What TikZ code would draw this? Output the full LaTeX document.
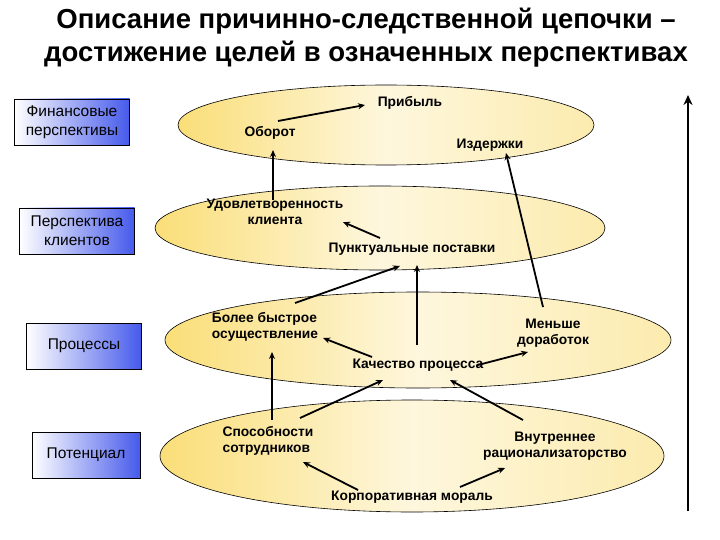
\documentclass[tikz,border=0pt]{standalone}
\usepackage{fontspec}
\setmainfont{Liberation Sans}
\usetikzlibrary{arrows.meta}
\definecolor{ell}{RGB}{250,222,120}
\definecolor{boxblue}{RGB}{70,90,235}
\tikzset{
  ellipsefill/.style={draw=black,line width=0.6pt,left color=ell,right color=white!40!ell,middle color=white!75!ell},
  perspbox/.style={draw=black,line width=0.6pt,left color=white,right color=boxblue,minimum height=46pt,align=center,font=\fontsize{15.5}{19}\selectfont,inner sep=1pt},
  lbl/.style={font=\fontsize{13.8}{16}\selectfont\bfseries,align=center,inner sep=1pt},
  arr/.style={-{Stealth[length=7pt,width=6pt]},line width=1.8pt},
  ttl/.style={font=\fontsize{27.5}{33}\selectfont\bfseries,align=center}
}
\begin{document}
\begin{tikzpicture}[x=1pt,y=-1pt]
\useasboundingbox (0,0) rectangle (720,540);
\node[ttl] (title) at (366,38) {Описание причинно-следственной цепочки --\\достижение целей в означенных перспективах};
% ellipses
\shade[ellipsefill] (386,125) ellipse [x radius=208,y radius=40];
\shade[ellipsefill] (380,228) ellipse [x radius=225,y radius=42];
\shade[ellipsefill] (418,340) ellipse [x radius=253,y radius=48];
\shade[ellipsefill] (412,456) ellipse [x radius=252,y radius=56];
% left boxes
\node[perspbox,minimum width=115pt] (b1) at (72,122) {Финансовые\\перспективы};
\node[perspbox,minimum width=115pt] (b2) at (77,231) {Перспектива\\клиентов};
\node[perspbox,minimum width=115pt] (b3) at (84,346) {Процессы};
\node[perspbox,minimum width=108pt] (b4) at (86,455) {Потенциал};
% labels
\node[lbl] (prib) at (410,103) {Прибыль};
\node[lbl] (obor) at (270,133) {Оборот};
\node[lbl] (izd) at (490,145) {Издержки};
\node[lbl] (udov) at (275,212) {Удовлетворенность\\клиента};
\node[lbl] (punk) at (412,249) {Пунктуальные поставки};
\node[lbl,align=left] (bol) at (265,327) {Более быстрое\\осуществление};
\node[lbl] (men) at (553,333) {Меньше\\доработок};
\node[lbl] (kach) at (418,365) {Качество процесса};
\node[lbl,align=left] (spos) at (268,441) {Способности\\сотрудников};
\node[lbl] (vnut) at (555,446) {Внутреннее\\рационализаторство};
\node[lbl] (morl) at (412,497) {Корпоративная мораль};
% arrow endpoints
\coordinate (c1) at (278,121); \coordinate (c2) at (365,105);
\coordinate (c3) at (273,200); \coordinate (c4) at (273,150);
\coordinate (c5) at (543,307); \coordinate (c6) at (506,153);
\coordinate (c7) at (380,238); \coordinate (c8) at (343,222);
\coordinate (c9) at (295,303); \coordinate (c10) at (400,266);
\coordinate (c11) at (417,345); \coordinate (c12) at (417,265);
\coordinate (c13) at (372,357); \coordinate (c14) at (323,338);
\coordinate (c15) at (478,365); \coordinate (c16) at (528,352);
\coordinate (c17) at (272,420); \coordinate (c18) at (272,352);
\coordinate (c19) at (300,418); \coordinate (c20) at (383,380);
\coordinate (c21) at (523,420); \coordinate (c22) at (450,380);
\coordinate (c23) at (358,490); \coordinate (c24) at (303,462);
\coordinate (c25) at (460,487); \coordinate (c26) at (505,468);
\coordinate (a1) at (688,511); \coordinate (a2) at (688,95);
\draw[arr] (c1) -- (c2);
\draw[arr] (c3) -- (c4);
\draw[arr] (c5) -- (c6);
\draw[arr] (c7) -- (c8);
\draw[arr] (c9) -- (c10);
\draw[arr] (c11) -- (c12);
\draw[arr] (c13) -- (c14);
\draw[arr] (c15) -- (c16);
\draw[arr] (c17) -- (c18);
\draw[arr] (c19) -- (c20);
\draw[arr] (c21) -- (c22);
\draw[arr] (c23) -- (c24);
\draw[arr] (c25) -- (c26);
\draw[-{Stealth[length=10pt,width=9pt]},line width=2.6pt] (a1) -- (a2);
\end{tikzpicture}
\end{document}
